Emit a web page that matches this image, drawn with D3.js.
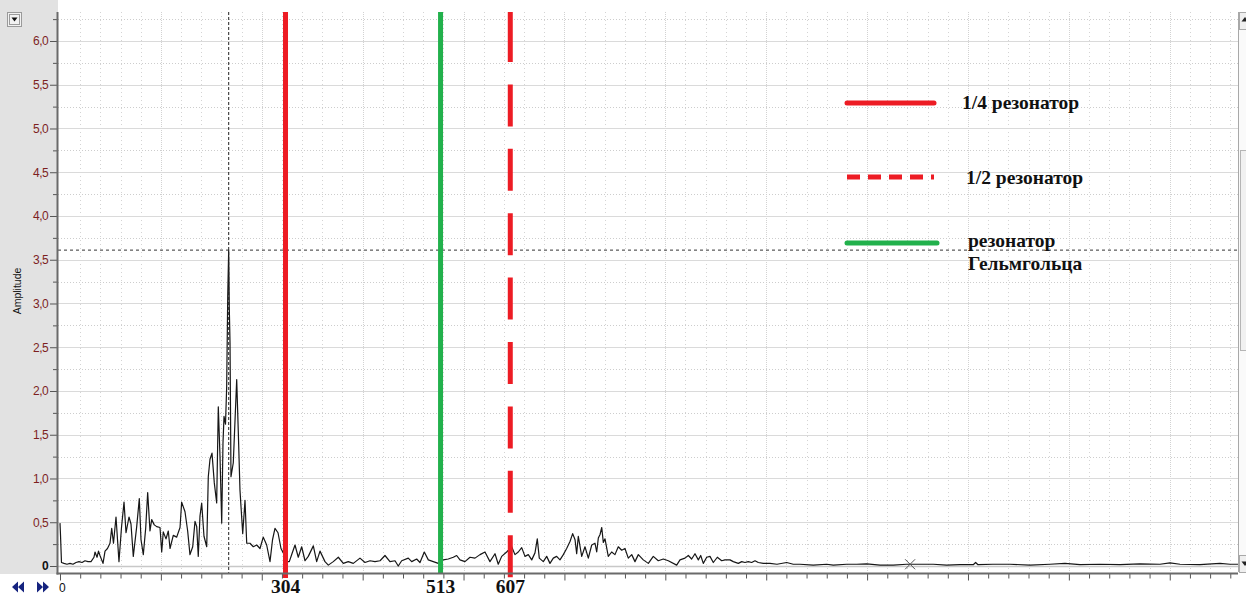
<!DOCTYPE html>
<html>
<head>
<meta charset="utf-8">
<script src="https://cdn.jsdelivr.net/npm/d3@7"></script>
<style>
  body { margin: 0; background: #fff; }
  svg { display: block; }
</style>
</head>
<body>
<svg id="chart" width="1246" height="597"></svg>
<script>
// Amplitude spectrum: [frequency, amplitude]
const spectrum = [
  [0,0.49],[0.7,0.35],[2.0,0.04],[5.4,0.03],[9.4,0.02],[13.5,0.03],[17.5,0.02],[21.6,0.04],
  [25.6,0.05],[29.7,0.04],[33.7,0.06],[37.7,0.05],[41.8,0.05],[45.8,0.10],[47.2,0.16],[49.9,0.10],
  [51.9,0.17],[53.9,0.12],[58.0,0.03],[60.7,0.17],[64.0,0.20],[67.4,0.26],[69.7,0.43],[72.1,0.26],
  [75.5,0.56],[79.5,0.05],[82.9,0.44],[86.3,0.73],[89.0,0.38],[93.0,0.56],[95.7,0.48],[98.8,0.11],
  [103.4,0.45],[106.9,0.77],[109.2,0.30],[112.3,0.13],[115.5,0.43],[118.2,0.84],[121.3,0.40],[123.6,0.53],
  [127.1,0.47],[130.4,0.45],[134.8,0.44],[137.1,0.16],[139.2,0.39],[142.9,0.31],[146.0,0.40],[148.3,0.20],
  [152.7,0.35],[157.3,0.33],[161.8,0.44],[164.0,0.73],[168.5,0.62],[172.1,0.40],[175.2,0.13],[178.9,0.22],
  [182.0,0.51],[184.3,0.45],[186.4,0.11],[188.7,0.57],[191.0,0.72],[194.1,0.34],[197.8,0.22],[199.9,1.02],
  [202.2,1.22],[204.9,1.29],[208.0,0.95],[211.2,0.72],[213.4,1.82],[215.7,1.25],[218.0,0.49],[219.7,1.40],
  [221.1,1.71],[223.1,1.62],[224.7,2.05],[226.1,3.08],[227.4,3.61],[228.2,2.96],[229.2,2.55],[230.5,1.02],
  [233.6,1.18],[238.2,2.13],[240.3,1.55],[242.6,0.87],[246.3,0.37],[249.4,0.75],[251.7,0.26],[256.1,0.26],
  [260.6,0.22],[265.2,0.24],[269.6,0.20],[274.0,0.33],[278.6,0.24],[283.1,0.05],[286.5,0.30],[289.8,0.43],
  [293.9,0.38],[297.9,0.20],[301.0,0.15],[305.6,0.05],[309.1,0.05],[312.7,0.14],[316.8,0.24],[321.2,0.10],
  [325.8,0.22],[330.3,0.06],[334.7,0.11],[341.5,0.23],[346.0,0.05],[350.5,0.17],[357.2,0.05],[361.7,0.01],
  [368.4,0.05],[375.2,0.10],[381.9,0.03],[388.6,0.05],[395.4,0.03],[404.4,0.09],[411.1,0.04],[417.9,0.06],
  [424.6,0.05],[431.4,0.06],[438.1,0.12],[444.8,0.05],[451.6,0.06],[456.0,0.00],[460.6,0.06],[469.5,0.09],
  [474.1,0.05],[480.8,0.08],[485.3,0.04],[491.1,0.16],[496.5,0.07],[503.2,0.05],[510.0,0.03],[516.7,0.07],
  [523.4,0.08],[530.2,0.10],[534.7,0.12],[539.2,0.07],[545.9,0.05],[552.7,0.10],[559.4,0.09],[566.2,0.13],
  [572.9,0.16],[579.6,0.05],[586.4,0.14],[590.8,0.02],[595.4,0.11],[602.1,0.16],[608.9,0.22],[613.3,0.13],
  [617.8,0.16],[622.4,0.21],[626.8,0.11],[631.3,0.13],[635.9,0.07],[640.3,0.15],[643.4,0.31],[646.1,0.09],
  [651.5,0.05],[656.1,0.11],[660.5,0.03],[665.0,0.09],[669.5,0.11],[674.0,0.07],[678.5,0.13],[683.0,0.20],
  [687.5,0.28],[691.1,0.37],[694.3,0.30],[696.5,0.14],[698.7,0.34],[703.3,0.11],[707.7,0.22],[712.2,0.09],
  [716.8,0.24],[721.2,0.26],[723.5,0.16],[725.7,0.32],[728.0,0.36],[730.3,0.44],[732.4,0.27],[734.7,0.31],
  [739.1,0.11],[743.7,0.16],[748.1,0.13],[752.6,0.22],[757.2,0.18],[761.6,0.20],[766.1,0.09],[770.7,0.13],
  [775.1,0.05],[779.6,0.13],[786.3,0.07],[793.1,0.03],[799.8,0.11],[806.5,0.06],[813.3,0.08],[820.0,0.06],
  [831.3,0.01],[835.8,0.07],[842.5,0.09],[847.0,0.12],[851.5,0.08],[856.0,0.14],[860.5,0.07],[863.7,0.12],
  [867.2,0.03],[871.8,0.10],[876.2,0.11],[880.7,0.04],[886.1,0.10],[892.0,0.06],[896.4,0.07],[903.2,0.07],
  [907.6,0.05],[914.4,0.03],[919.0,0.05],[923.4,0.04],[927.8,0.05],[932.4,0.04],[936.9,0.06],[941.3,0.04],
  [948.1,0.03],[957.1,0.03],[966.5,0.02],[979.6,0.04],[988.5,0.02],[997.5,0.02],[1015.4,0.01],[1033.5,0.02],
  [1042.4,0.01],[1060.5,0.02],[1074.0,0.02],[1087.4,0.025],[1105.4,0.01],[1123.3,0.01],[1141.3,0.02],[1159.3,0.02],
  [1177.2,0.02],[1195.2,0.01],[1213.2,0.015],[1231.1,0.015],[1234.3,0.04],[1237.5,0.015],[1257.7,0.02],[1280.6,0.02],
  [1307.6,0.01],[1334.5,0.02],[1354.7,0.03],[1375.0,0.015],[1401.9,0.02],[1428.9,0.015],[1455.8,0.025],[1482.8,0.02],
  [1496.3,0.035],[1509.8,0.02],[1536.7,0.015],[1563.7,0.03],[1577.2,0.02],[1588,0.02]
];

// Cursor readout at the spectral maximum
const peakFreq = 227.4;
const peakAmp = 3.61;

// Secondary cursor marker on the trace
const markerFreq = [1146];
const markerAmp = [0.02];

// Resonator frequencies and their kinds
const resonatorFreqs = [304, 513, 607];
const resonatorKinds = ["quarter", "helmholtz", "half"];
const resonatorLabels = ["304", "513", "607"];

// Legend entries
const legendKinds = ["quarter", "half", "helmholtz"];
const legendLabels = [["1/4 резонатор"], ["1/2 резонатор"], ["резонатор", "Гельмгольца"]];

// Axis ticks
const yTickValues = [0, 0.5, 1.0, 1.5, 2.0, 2.5, 3.0, 3.5, 4.0, 4.5, 5.0, 5.5, 6.0];
const yTickLabels = ["0", "0,5", "1,0", "1,5", "2,0", "2,5", "3,0", "3,5", "4,0", "4,5", "5,0", "5,5", "6,0"];
const yMinorTickValues = [0.25, 0.75, 1.25, 1.75, 2.25, 2.75, 3.25, 3.75, 4.25, 4.75, 5.25, 5.75, 6.25];
const xTickStep = 27.2;
const xDomainMax = 1588;
const xTickLabels = ["0"];

// ---- styles ----
const RED = "#ed1c24", GREEN = "#22b14c";
const kindStyle = {
  quarter:   { color: RED,   dashed: false },
  half:      { color: RED,   dashed: true },
  helmholtz: { color: GREEN, dashed: false }
};

const svg = d3.select("#chart");
const plotL = 58, plotR = 1238, plotT = 12, plotB = 572, axisY = 573.5;

const x = d3.scaleLinear().domain([0, xDomainMax]).range([60, plotR]);
const y = d3.scaleLinear().domain([0, 6.3314]).range([566, plotT]);

// left panel
svg.append("rect").attr("x", 0).attr("y", 0).attr("width", plotL).attr("height", 574)
  .attr("fill", "#e2e2e2");

// plot area
svg.append("rect").attr("x", plotL).attr("y", plotT).attr("width", plotR - plotL).attr("height", plotB - plotT)
  .attr("fill", "#fff");

svg.append("clipPath").attr("id", "plotClip").append("rect")
  .attr("x", plotL).attr("y", plotT).attr("width", plotR - plotL).attr("height", plotB - plotT + 8);

const grid = svg.append("g").attr("clip-path", "url(#plotClip)");

// vertical grid
const xTicks = d3.range(0, xDomainMax, xTickStep);
grid.selectAll("line.vg").data(xTicks.slice(1)).join("line")
  .attr("x1", d => Math.round(x(d)) + 0.5).attr("x2", d => Math.round(x(d)) + 0.5)
  .attr("y1", plotT).attr("y2", plotB)
  .attr("stroke", (d, i) => (i + 1) % 5 === 0 ? "#d2d2d2" : "#d4d4d4")
  .attr("stroke-dasharray", (d, i) => (i + 1) % 5 === 0 ? "1,1" : "1,3");

// horizontal grid
grid.selectAll("line.hmin").data(yMinorTickValues).join("line")
  .attr("x1", plotL).attr("x2", plotR)
  .attr("y1", d => Math.round(y(d)) + 0.5).attr("y2", d => Math.round(y(d)) + 0.5)
  .attr("stroke", "#cdcdcd").attr("stroke-dasharray", "1,2");
grid.selectAll("line.hmaj").data(yTickValues).join("line")
  .attr("x1", plotL).attr("x2", plotR)
  .attr("y1", d => Math.round(y(d)) + 0.5).attr("y2", d => Math.round(y(d)) + 0.5)
  .attr("stroke", d => d === 0 ? "#c8c8c8" : "#dadada")
  .attr("stroke-width", d => d === 0 ? 1.6 : 1);

// spectrum trace
const line = d3.line().x(d => x(d[0])).y(d => y(d[1]));
grid.append("path").datum(spectrum)
  .attr("d", line).attr("fill", "none")
  .attr("stroke", "#161616").attr("stroke-width", 1.2).attr("stroke-linejoin", "round");

// cursor crosshair
svg.append("line")
  .attr("x1", x(peakFreq)).attr("x2", x(peakFreq)).attr("y1", plotT).attr("y2", axisY)
  .attr("stroke", "#222").attr("stroke-dasharray", "3,2");
svg.append("line")
  .attr("x1", plotL).attr("x2", plotR).attr("y1", y(peakAmp)).attr("y2", y(peakAmp))
  .attr("stroke", "#333").attr("stroke-dasharray", "3,3");

// secondary marker
markerFreq.forEach((f, i) => {
  const cx = x(f), cy = y(markerAmp[i]);
  svg.append("path")
    .attr("d", `M${cx - 5},${cy - 5}L${cx},${cy}L${cx - 5},${cy + 5}M${cx + 5},${cy - 5}L${cx},${cy}L${cx + 5},${cy + 5}`)
    .attr("fill", "none").attr("stroke", "#555").attr("stroke-width", 1);
});

// resonator lines
const halfDash = [50].concat(d3.range(8).flatMap(() => [22.4, 42])).join(",");
svg.selectAll("line.res").data(resonatorFreqs).join("line")
  .attr("x1", d => x(d)).attr("x2", d => x(d))
  .attr("y1", plotT)
  .attr("y2", (d, i) => resonatorKinds[i] === "helmholtz" ? 573 : 578)
  .attr("stroke", (d, i) => kindStyle[resonatorKinds[i]].color)
  .attr("stroke-width", 5)
  .attr("stroke-dasharray", (d, i) => kindStyle[resonatorKinds[i]].dashed ? halfDash : null);

// axes
const yAxisMajor = d3.axisLeft(y).tickValues(yTickValues).tickSize(8)
  .tickFormat((d, i) => yTickLabels[i]);
const gy = svg.append("g").attr("transform", `translate(${plotL},0)`).call(yAxisMajor);
gy.select(".domain").remove();
gy.selectAll(".tick line").attr("stroke", "#555");
gy.selectAll(".tick text")
  .attr("x", -10)
  .attr("fill", (d) => d === 0 ? "#111" : "#7d1f1f")
  .attr("font-weight", d => d === 0 ? "bold" : "normal")
  .style("font-family", "'Liberation Sans', Arial, sans-serif")
  .style("font-size", "12px")
  .style("letter-spacing", "-0.6px");

const yAxisMinor = d3.axisLeft(y).tickValues(yMinorTickValues).tickSize(5).tickFormat("");
const gy2 = svg.append("g").attr("transform", `translate(${plotL},0)`).call(yAxisMinor);
gy2.select(".domain").remove();
gy2.selectAll(".tick line").attr("stroke", "#555");

const xAxis = d3.axisBottom(x).tickValues(xTicks)
  .tickSizeInner(0).tickSizeOuter(0).tickFormat("");
const gx = svg.append("g").attr("transform", `translate(0,${axisY})`).call(xAxis);
gx.select(".domain").remove();
gx.selectAll(".tick line")
  .attr("y2", (d, i) => i % 5 === 0 ? 7 : 5)
  .attr("stroke", "#555");

// axis lines
svg.append("line").attr("x1", plotL - 0.5).attr("x2", plotL - 0.5).attr("y1", plotT).attr("y2", axisY + 1)
  .attr("stroke", "#6a6a6a").attr("stroke-width", 2);
svg.append("line").attr("x1", plotL - 1.5).attr("x2", plotR).attr("y1", axisY).attr("y2", axisY)
  .attr("stroke", "#6a6a6a").attr("stroke-width", 2);

// x origin label
svg.append("text").attr("x", x(0) - 1).attr("y", 592).text(xTickLabels[0])
  .attr("fill", "#111")
  .style("font-family", "'Liberation Sans', Arial, sans-serif").style("font-size", "12px");

// axis title
svg.append("text").attr("transform", "translate(21,291) rotate(-90)")
  .attr("text-anchor", "middle").text("Amplitude")
  .attr("fill", "#111")
  .style("font-family", "'Liberation Sans', Arial, sans-serif").style("font-size", "10.5px");

// resonator frequency labels
svg.selectAll("text.resl").data(resonatorFreqs).join("text")
  .attr("x", d => x(d)).attr("y", 592.5)
  .attr("text-anchor", "middle")
  .text((d, i) => resonatorLabels[i])
  .attr("fill", "#111")
  .style("font-family", "'Liberation Serif', 'Times New Roman', serif")
  .style("font-weight", "bold").style("font-size", "19.5px");

// legend
const legendRowsY = [103, 177, 243];
const legendTextX = [962, 966, 968];
const legendBaselines = [[109], [184], [247, 270]];
legendKinds.forEach((k, i) => {
  const st = kindStyle[k];
  svg.append("line")
    .attr("x1", 847).attr("x2", k === "helmholtz" ? 937 : 934)
    .attr("y1", legendRowsY[i]).attr("y2", legendRowsY[i])
    .attr("stroke", st.color).attr("stroke-width", 5)
    .attr("stroke-linecap", st.dashed ? "butt" : "round")
    .attr("stroke-dasharray", st.dashed ? "13,8" : null);
  legendLabels[i].forEach((t, j) => {
    svg.append("text").attr("x", legendTextX[i]).attr("y", legendBaselines[i][j])
      .text(t).attr("fill", "#111")
      .style("font-family", "'Liberation Serif', 'Times New Roman', serif")
      .style("font-weight", "bold").style("font-size", "19.5px");
  });
});

// top-left dropdown button
svg.append("rect").attr("x", 7.5).attr("y", 12.5).attr("width", 14).attr("height", 14)
  .attr("fill", "#f2f2f2").attr("stroke", "#9a9a9a");
svg.append("rect").attr("x", 9.5).attr("y", 14.5).attr("width", 10).attr("height", 10)
  .attr("fill", "none").attr("stroke", "#444").attr("stroke-dasharray", "1,1");
svg.append("path").attr("d", "M11.5,17.5L17.5,17.5L14.5,21.5Z").attr("fill", "#111");

// navigation arrows
const navColor = "#15237f";
svg.append("path").attr("d", "M12,587L18,581.5L18,592.5Z M18,587L24,581.5L24,592.5Z").attr("fill", navColor);
svg.append("path").attr("d", "M37,581.5L43,587L37,592.5Z M43,581.5L49,587L43,592.5Z").attr("fill", navColor);

// right scrollbar
svg.append("rect").attr("x", 1239).attr("y", 12).attr("width", 7).attr("height", 560).attr("fill", "#fafafa");
svg.append("line").attr("x1", 1238.5).attr("x2", 1238.5).attr("y1", 12).attr("y2", 572)
  .attr("stroke", "#a8a8a8");
svg.append("rect").attr("x", 1239.5).attr("y", 12.5).attr("width", 10).attr("height", 17)
  .attr("fill", "#efefef").attr("stroke", "#a8a8a8");
svg.append("path").attr("d", "M1241.5,21.5L1245,17L1248.5,21.5Z").attr("fill", "#222");
svg.append("rect").attr("x", 1240.5).attr("y", 150.5).attr("width", 9).attr("height", 200)
  .attr("fill", "#f1f1f1").attr("stroke", "#b5b5b5");
svg.append("rect").attr("x", 1239.5).attr("y", 555.5).attr("width", 10).attr("height", 17)
  .attr("fill", "#efefef").attr("stroke", "#a8a8a8");
svg.append("path").attr("d", "M1241.5,561.5L1248.5,561.5L1245,566Z").attr("fill", "#222");
</script>
</body>
</html>
